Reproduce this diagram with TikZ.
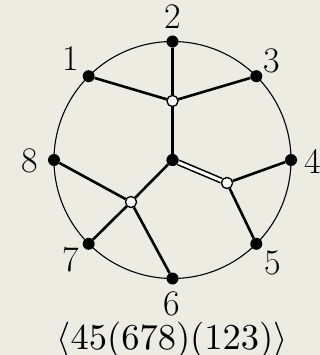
\documentclass[tikz,border=0pt]{standalone}
\begin{document}
\begin{tikzpicture}[x=1pt,y=-1pt,
  bdot/.style={circle,fill=black,inner sep=0pt,minimum size=12pt},
  wdot/.style={circle,fill=white,draw=black,line width=1.2pt,inner sep=0pt,minimum size=11pt},
  edge/.style={line width=2.6pt},
  lab/.style={font=\fontsize{36}{40}\selectfont,inner sep=0pt}]
\fill[fill={rgb,255:red,237;green,236;blue,226}] (0,0) rectangle (320,355);
\useasboundingbox (0,0) rectangle (320,355);
\coordinate (O) at (172.5,160);
\draw[line width=1.1pt] (O) circle (118.5);
\node[bdot] (p2) at (172.5,41.5) {};
\node[bdot] (p3) at (256.3,76.2) {};
\node[bdot] (p4) at (291,160) {};
\node[bdot] (p5) at (256.3,243.8) {};
\node[bdot] (p6) at (172.5,278.5) {};
\node[bdot] (p7) at (88.7,243.8) {};
\node[bdot] (p8) at (54,160) {};
\node[bdot] (p1) at (88.7,76.2) {};
\node[wdot] (w1) at (172.5,101) {};
\node[bdot] (c) at (172.5,160) {};
\node[wdot] (w2) at (227,183) {};
\node[wdot] (w3) at (131,202) {};
\draw[edge] (p1) -- (w1) (p3) -- (w1) (p2) -- (w1) (w1) -- (c);
\draw[edge] (w2) -- (p4) (w2) -- (p5);
\draw[edge] (c) -- (w3) (w3) -- (p8) (w3) -- (p7) (w3) -- (p6);
\draw[line width=1.6pt,double=white,double distance=3pt] (c) -- (w2);
\node[wdot] at (w1) {};
\node[wdot] at (w2) {};
\node[wdot] at (w3) {};
\node[bdot] at (c) {};
\node[lab] (l2) at (173,17) {2};
\node[lab] (l1) at (71,59) {1};
\node[lab] (l3) at (272,61) {3};
\node[lab] (l8) at (30,161) {8};
\node[lab] (l4) at (313,161) {4};
\node[lab] (l7) at (71,260) {7};
\node[lab] (l5) at (273,263) {5};
\node[lab] (l6) at (172,304) {6};
\node[scale=3.65,inner sep=0pt] (t) at (172,340) {$\langle 45(678)(123)\rangle$};
\end{tikzpicture}
\end{document}
